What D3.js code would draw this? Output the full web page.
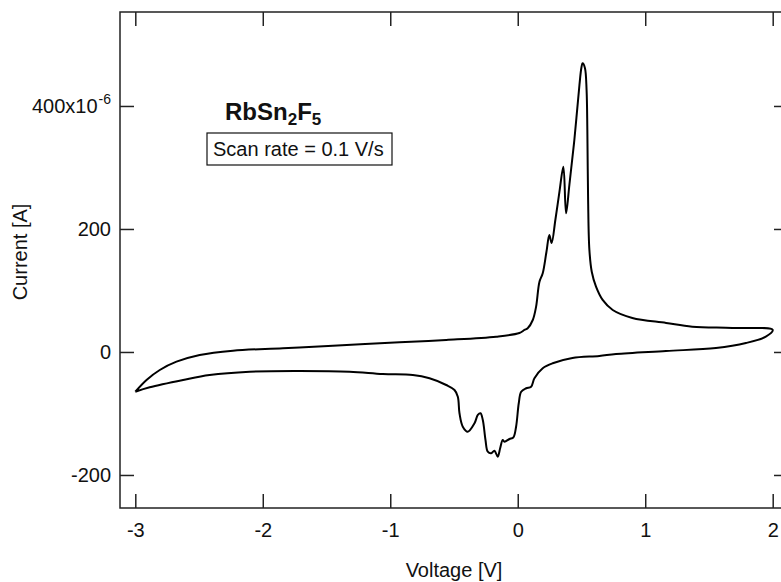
<!DOCTYPE html>
<html>
<head>
<meta charset="utf-8">
<script src="https://cdn.jsdelivr.net/npm/d3@7"></script>
<style>
  body { margin: 0; background: #fff; }
  text { font-family: "Liberation Sans", Arial, sans-serif; fill: #111; }
</style>
</head>
<body>
<svg id="chart" width="781" height="582"></svg>
<script>
// forward (anodic) scan, -3 V -> 2 V ; current in µA
var forwardV = [-3.00, -2.912, -2.808, -2.677, -2.495, -2.234, -1.842, -1.450, -0.927, -0.561, -0.169,
  0.013, 0.053, 0.078, 0.118, 0.144, 0.170, 0.196, 0.225, 0.248, 0.266, 0.295, 0.327, 0.358, 0.379,
  0.405, 0.444, 0.484, 0.499, 0.509, 0.527, 0.540, 0.546, 0.552, 0.562, 0.581, 0.614, 0.666, 0.745,
  0.899, 1.164, 1.369, 1.683, 2.00];
var forwardI = [-64.6, -45.5, -29.3, -15.8, -4.9, 2.1, 6.0, 10.2, 15.8, 19.5, 24.9,
  30.9, 35.8, 38.5, 52.0, 73.7, 113.8, 128.0, 162.6, 190.2, 177.2, 214.6, 260.2, 301.3, 225.5,
  271.5, 344.7, 434.1, 461.8, 469.4, 461.8, 426.0, 361.0, 247.0, 166.0, 130.0, 106.2, 84.6, 68.3,
  55.3, 47.2, 41.1, 39.0, 35.8];

// reverse (cathodic) scan, 2 V -> -3 V
var reverseV = [2.00, 1.946, 1.790, 1.555, 1.163, 0.771, 0.640, 0.429, 0.274, 0.196, 0.131, 0.105,
  0.066, 0.027, 0.008, -0.013, -0.034, -0.065, -0.104, -0.118, -0.138, -0.157, -0.183, -0.208,
  -0.235, -0.253, -0.274, -0.292, -0.313, -0.339, -0.392, -0.431, -0.457, -0.470, -0.496, -0.561,
  -0.692, -0.823, -1.058, -1.319, -1.711, -2.103, -2.417, -2.625, -2.887, -3.00];
var reverseI = [35.8, 24.9, 14.6, 6.5, 1.6, -3.3, -6.5, -9.8, -18.4, -26.5, -42.8, -56.4,
  -59.0, -64.6, -83.4, -121.5, -138.7, -141.5, -145.9, -143.1, -156.6, -170.2, -160.5, -164.7,
  -162.1, -143.1, -110.6, -99.7, -102.4, -115.9, -129.6, -121.5, -99.7, -72.7, -61.8, -53.7,
  -42.8, -37.4, -35.8, -32.0, -30.9, -32.0, -37.4, -45.5, -57.4, -64.6];

var xTicks = [-3, -2, -1, 0, 1, 2];
var yTicks = [-200, 0, 200, 400];
var yTickLabels = ["-200", "0", "200", "400x10"];

var svg = d3.select("#chart");
var mLeft = 120, mRight = 788, mTop = 12, mBottom = 508;

var x = d3.scaleLinear().domain([-3.12, 2.12]).range([mLeft, mRight]);
var y = d3.scaleLinear().domain([-253.7, 552.8]).range([mBottom, mTop]);

// frame
svg.append("rect")
  .attr("x", mLeft).attr("y", mTop)
  .attr("width", mRight - mLeft).attr("height", mBottom - mTop)
  .attr("fill", "none").attr("stroke", "#222").attr("stroke-width", 1.5);

function styleAxis(g) {
  g.select(".domain").remove();
  g.selectAll(".tick line").attr("stroke", "#222").attr("stroke-width", 1.5);
  g.selectAll(".tick text").style("font-size", "20px").attr("fill", "#111");
}

svg.append("g")
  .attr("transform", "translate(0," + mBottom + ")")
  .call(d3.axisBottom(x).tickValues(xTicks).tickSize(-14).tickPadding(15)
    .tickFormat(function(d) { return String(d); }))
  .call(styleAxis);

svg.append("g")
  .attr("transform", "translate(0," + mTop + ")")
  .call(d3.axisTop(x).tickValues(xTicks).tickSize(-14).tickFormat(""))
  .call(styleAxis);

var yAxisG = svg.append("g")
  .attr("transform", "translate(" + mLeft + ",0)")
  .call(d3.axisLeft(y).tickValues(yTicks).tickSize(-14).tickPadding(9)
    .tickFormat(function(d, i) { return yTickLabels[i]; }))
  .call(styleAxis);

// exponent on top label
yAxisG.selectAll(".tick text")
  .filter(function(d) { return d === 400; })
  .each(function() {
    d3.select(this).append("tspan")
      .attr("dx", "1").attr("dy", "-9")
      .style("font-size", "14px").text("-6");
  });

svg.append("g")
  .attr("transform", "translate(" + mRight + ",0)")
  .call(d3.axisRight(y).tickValues(yTicks).tickSize(-14).tickFormat(""))
  .call(styleAxis);

// curve
var pts = forwardV.map(function(v, i) { return [v, forwardI[i]]; })
  .concat(reverseV.slice(1).map(function(v, i) { return [v, reverseI[i + 1]]; }));

var line = d3.line()
  .x(function(d) { return x(d[0]); })
  .y(function(d) { return y(d[1]); })
  .curve(d3.curveCatmullRom.alpha(0.5));

svg.append("path")
  .datum(pts)
  .attr("d", line)
  .attr("fill", "none")
  .attr("stroke", "#000")
  .attr("stroke-width", 2)
  .attr("stroke-linejoin", "round");

// axis titles
svg.append("text")
  .attr("x", 454).attr("y", 577)
  .attr("text-anchor", "middle")
  .style("font-size", "20px")
  .text("Voltage [V]");

svg.append("text")
  .attr("transform", "translate(27,252) rotate(-90)")
  .attr("text-anchor", "middle")
  .style("font-size", "20px")
  .text("Current [A]");

// compound label
var title = svg.append("text")
  .attr("x", 225).attr("y", 120)
  .style("font-size", "24px").style("font-weight", "bold");
title.append("tspan").text("RbSn");
title.append("tspan").attr("dy", 5).style("font-size", "17px").text("2");
title.append("tspan").attr("dy", -5).text("F");
title.append("tspan").attr("dy", 5).style("font-size", "17px").text("5");

svg.append("rect")
  .attr("x", 207).attr("y", 133).attr("width", 185).attr("height", 32)
  .attr("fill", "none").attr("stroke", "#111").attr("stroke-width", 1.2);

svg.append("text")
  .attr("x", 213).attr("y", 156)
  .style("font-size", "20px")
  .text("Scan rate = 0.1 V/s");
</script>
</body>
</html>
